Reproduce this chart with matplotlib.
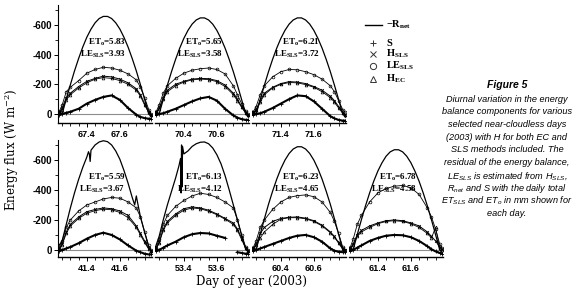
import numpy as np
import matplotlib
matplotlib.use("Agg")
import matplotlib.pyplot as plt
from matplotlib.lines import Line2D

plt.rcParams['axes.unicode_minus'] = False

# ---- data ----
days = [67, 70, 71, 41, 53, 60, 61]
et_o = [5.83, 5.65, 6.21, 5.59, 6.13, 6.23, 6.78]
le_mm = [3.93, 3.58, 3.72, 3.67, 4.12, 4.65, 4.58]

# net radiation (plotted as -Rnet, W m-2), time as fraction of day
rn_grid = [0.225, 0.25, 0.275, 0.30, 0.325, 0.35, 0.375, 0.40, 0.425, 0.45, 0.475, 0.50,
           0.525, 0.55, 0.575, 0.60, 0.625, 0.65, 0.675, 0.70, 0.725, 0.75, 0.775, 0.80]
rn_t41 = [0.225, 0.25, 0.275, 0.30, 0.325, 0.35, 0.375, 0.40, 0.41, 0.415, 0.42, 0.425, 0.45,
          0.475, 0.50, 0.525, 0.55, 0.575, 0.60, 0.625, 0.65, 0.675, 0.69, 0.70, 0.705, 0.725,
          0.75, 0.775, 0.80]
rn_t53 = [0.225, 0.25, 0.275, 0.30, 0.325, 0.35, 0.37, 0.38, 0.383, 0.386, 0.389, 0.392, 0.40,
          0.425, 0.45, 0.475, 0.50, 0.525, 0.55, 0.575, 0.60, 0.625, 0.65, 0.675, 0.70, 0.725,
          0.75, 0.775, 0.80]
rnet_t = [rn_grid, rn_grid, rn_grid, rn_t41, rn_t53, rn_grid, rn_grid]
rnet = [
    [-25, 0, -100, -197, -290, -374, -451, -518, -572, -615, -644, -658,
     -658, -644, -615, -573, -517, -451, -374, -290, -197, -100, 0, 30],
    [-20, 0, -98, -194, -285, -369, -444, -510, -564, -606, -634, -648,
     -648, -634, -606, -564, -509, -444, -368, -285, -194, -98, 0, 30],
    [-20, 0, -98, -194, -285, -369, -444, -510, -564, -606, -634, -648,
     -648, -634, -606, -564, -509, -444, -368, -285, -194, -98, 0, 30],
    [-20, -60, -170, -280, -380, -470, -550, -620, -655, -640, -590, -665, -700,
     -720, -728, -722, -700, -660, -605, -530, -445, -350, -300, -360, -330, -220,
     -120, -20, 30],
    [-10, -90, -200, -300, -390, -480, -560, -610, -380, -700, -420, -690, -640,
     -660, -690, -708, -718, -720, -708, -680, -635, -575, -495, -400, -300, -200,
     -100, -5, 25],
    [-20, -2, -106, -207, -304, -392, -472, -542, -599, -643, -673, -688,
     -688, -673, -643, -599, -541, -472, -391, -304, -207, -106, -2, 30],
    [-20, -1, -102, -201, -294, -380, -458, -526, -581, -625, -654, -668,
     -668, -654, -625, -582, -525, -458, -380, -294, -201, -102, -1, 30],
]

flux_t = [0.23, 0.25, 0.275, 0.30, 0.35, 0.40, 0.45, 0.50, 0.55, 0.60, 0.65, 0.70,
          0.725, 0.75, 0.775, 0.79]
le_sls = [
    [-10, -60, -150, -180, -225, -275, -300, -315, -310, -295, -270, -230, -180, -110, -30, 0],
    [-10, -60, -140, -190, -240, -275, -295, -305, -310, -300, -270, -190, -130, -70, -20, 0],
    [-10, -50, -130, -190, -250, -285, -300, -298, -285, -265, -235, -190, -150, -90, -30, -10],
    [-10, -60, -150, -200, -260, -300, -320, -340, -350, -345, -320, -280, -220, -120, -30, 0],
    [-10, -70, -170, -230, -290, -330, -360, -378, -370, -350, -320, -280, -200, -100, -20, 0],
    [-10, -60, -150, -200, -270, -320, -350, -362, -367, -355, -320, -250, -190, -110, -20, 0],
    [-10, -70, -170, -230, -320, -380, -410, -425, -430, -415, -370, -280, -220, -140, -40, -10],
]
h_sls = [
    [-5, -40, -110, -140, -185, -220, -240, -255, -250, -235, -210, -170, -130, -70, -15, 5],
    [-5, -40, -110, -160, -200, -220, -235, -240, -238, -225, -195, -140, -100, -50, -10, 5],
    [-5, -30, -90, -140, -180, -205, -218, -215, -205, -185, -160, -120, -90, -50, -10, 5],
    [-5, -40, -120, -170, -220, -255, -270, -280, -275, -260, -230, -160, -110, -60, -10, 5],
    [-5, -50, -140, -190, -240, -275, -287, -280, -265, -240, -210, -180, -140, -80, -15, 5],
    [-5, -40, -110, -150, -190, -210, -218, -220, -212, -195, -165, -120, -90, -50, -10, 0],
    [-5, -40, -100, -130, -160, -180, -195, -200, -195, -180, -160, -120, -90, -60, -20, -5],
]
h_ec = [
    [-5, -30, -95, -130, -175, -210, -235, -245, -240, -225, -200, -160, -120, -60, -10, 5],
    [-5, -35, -100, -150, -190, -215, -230, -235, -232, -218, -185, -130, -90, -45, -5, 5],
    [-5, -25, -80, -130, -175, -200, -212, -210, -198, -180, -150, -110, -80, -40, -5, 10],
    [-5, -35, -110, -160, -210, -245, -262, -272, -268, -250, -215, -150, -100, -50, -5, 5],
    [-5, -45, -130, -180, -230, -265, -280, -275, -258, -235, -205, -170, -130, -70, -10, 5],
    [-5, -30, -80, -120, -170, -205, -215, -215, -208, -190, -160, -115, -85, -45, -5, 0],
    [-5, -35, -90, -120, -150, -175, -190, -195, -190, -175, -150, -110, -80, -150, -10, 0],
]
soil = [
    [5, 0, -8, -15, -35, -70, -95, -115, -125, -95, -40, 5, 20, 28, 32, 35],
    [5, 0, -5, -15, -35, -60, -85, -105, -115, -90, -35, 10, 25, 35, 40, 40],
    [5, 0, -5, -15, -40, -70, -100, -125, -120, -85, -35, 15, 30, 40, 45, 45],
    [5, 0, -10, -20, -45, -75, -100, -115, -100, -70, -30, 5, 15, 25, 30, 30],
    [5, 0, -15, -30, -55, -85, -105, -113, -110, -95, -80, np.nan, 15, 20, 25, 25],
    [5, 0, -10, -20, -40, -60, -80, -95, -100, -85, -55, -10, 5, 12, 15, 15],
    [5, 0, -15, -30, -60, -80, -95, -100, -98, -85, -60, -25, -5, 10, 20, 25],
]

caption = [
    "Diurnal variation in the energy",
    "balance components for various",
    "selected near-cloudless days",
    "(2003) with H for both EC and",
    "SLS methods included. The",
    "residual of the energy balance,",
    r"LE$_\mathregular{SLS}$ is estimated from H$_\mathregular{SLS}$,",
    r"R$_\mathregular{net}$ and S with the daily total",
    r"ET$_\mathregular{SLS}$ and ET$_\mathregular{o}$ in mm shown for",
    "each day.",
]

# ---- figure ----
W, H = 580, 294
fig = plt.figure(figsize=(5.8, 2.94), dpi=100)


def add_ax(x0, y0, x1, y1):
    return fig.add_axes([x0 / W, 1 - y1 / H, (x1 - x0) / W, (y1 - y0) / H])


xs = [(58, 152), (155, 249), (252, 346), (58, 152), (155, 249), (252, 346), (349, 443)]
rows = [(5, 123, 61, -735)] * 3 + [(140, 257, 47, -733)] * 4

tick_font = dict(family='Liberation Sans', weight='bold', size=6.5)
ytick_font = dict(family='Liberation Sans', weight='bold', size=7)
ann_font = dict(family='Liberation Serif', weight='bold', size=6.5)

for i, d in enumerate(days):
    y0, y1, yb, yt = rows[i]
    ax = add_ax(xs[i][0], y0, xs[i][1], y1)
    ax.set_xlim(d + 0.225, d + 0.795)
    ax.set_ylim(yb, yt)
    ax.axhline(0, color='#8c8c8c', lw=0.8, zorder=1)

    ax.plot(np.array(rnet_t[i]) + d, rnet[i], color='k', lw=0.9)
    t = np.array(flux_t) + d
    ax.plot(t, le_sls[i], color='k', lw=0.6, marker='o', ms=2, mfc='none', mew=0.5)
    ax.plot(t, h_ec[i], color='k', lw=0.6, marker='^', ms=2, mfc='none', mew=0.5)
    ax.plot(t, h_sls[i], color='k', lw=0.7, marker='x', ms=2, mew=0.6)
    ax.plot(t, soil[i], color='k', lw=1.5, marker='+', ms=2.5, mew=0.6)

    ax.text(d + 0.635, -486, "ET$_\\mathregular{o}$=%.2f" % et_o[i], ha='right', va='center', **ann_font)
    ax.text(d + 0.635, -405, "LE$_\\mathregular{SLS}$=%.2f" % le_mm[i], ha='right', va='center', **ann_font)

    for s in ['top', 'right']:
        ax.spines[s].set_visible(False)
    ax.spines['bottom'].set_linewidth(1.0)
    ax.set_xticks([d + 0.4, d + 0.6])
    ax.set_xticklabels(["%.1f" % (d + 0.4), "%.1f" % (d + 0.6)], fontdict=tick_font)
    ax.set_xticks(d + np.array([0.25, 0.3, 0.35, 0.45, 0.5, 0.55, 0.65, 0.7, 0.75]), minor=True)
    ax.tick_params(axis='x', which='major', direction='out', length=3, width=0.7, pad=2)
    ax.tick_params(axis='x', which='minor', direction='out', length=2, width=0.6)

    if i in (0, 3):
        ax.spines['left'].set_linewidth(0.8)
        ax.set_yticks([0, -200, -400, -600])
        ax.set_yticklabels(['0', '-200', '-400', '-600'], fontdict=ytick_font)
        ax.set_yticks([-100, -300, -500, -700], minor=True)
        ax.tick_params(axis='y', which='major', direction='out', length=3, width=0.7, pad=1.5)
        ax.tick_params(axis='y', which='minor', direction='out', length=2, width=0.6)
    else:
        ax.spines['left'].set_visible(False)
        ax.set_yticks([])

fig.text(12 / W, 1 - 150 / H, "Energy flux (W m$^\\mathregular{-2}$)", rotation=90,
         ha='center', va='center', family='DejaVu Serif', size=8.5)
fig.text(252 / W, 1 - 282 / H, "Day of year (2003)", ha='center', va='center',
         family='DejaVu Serif', size=8.5)

# legend drawn by hand
leg_font = dict(family='Liberation Serif', weight='bold', size=7.5)
fig.add_artist(Line2D([365 / W, 382 / W], [1 - 25 / H, 1 - 25 / H], color='k', lw=1.0,
                      transform=fig.transFigure))
fig.text(386 / W, 1 - 25 / H, "\u2212R$_\\mathregular{net}$", va='center', **leg_font)
leg_items = [('+', 'S', 43), ('x', 'H$_\\mathregular{SLS}$', 54),
             ('o', 'LE$_\\mathregular{SLS}$', 66), ('^', 'H$_\\mathregular{EC}$', 79)]
for mk, lab, py in leg_items:
    fig.add_artist(Line2D([373 / W], [1 - py / H], marker=mk, ms=4.5, mfc='none', mec='#333333',
                          mew=0.7, ls='none', transform=fig.transFigure))
    fig.text(386 / W, 1 - py / H, lab, va='center', **leg_font)

# caption
fig.text(507 / W, 1 - 85 / H, "Figure 5", ha='center', va='center',
         family='Liberation Sans', style='italic', weight='bold', size=7.5)
for k, line in enumerate(caption):
    fig.text(507 / W, 1 - (99 + 12.75 * k) / H, line, ha='center', va='center',
             family='Liberation Sans', style='italic', size=6.6)

fig.savefig('out.png', dpi=100)
